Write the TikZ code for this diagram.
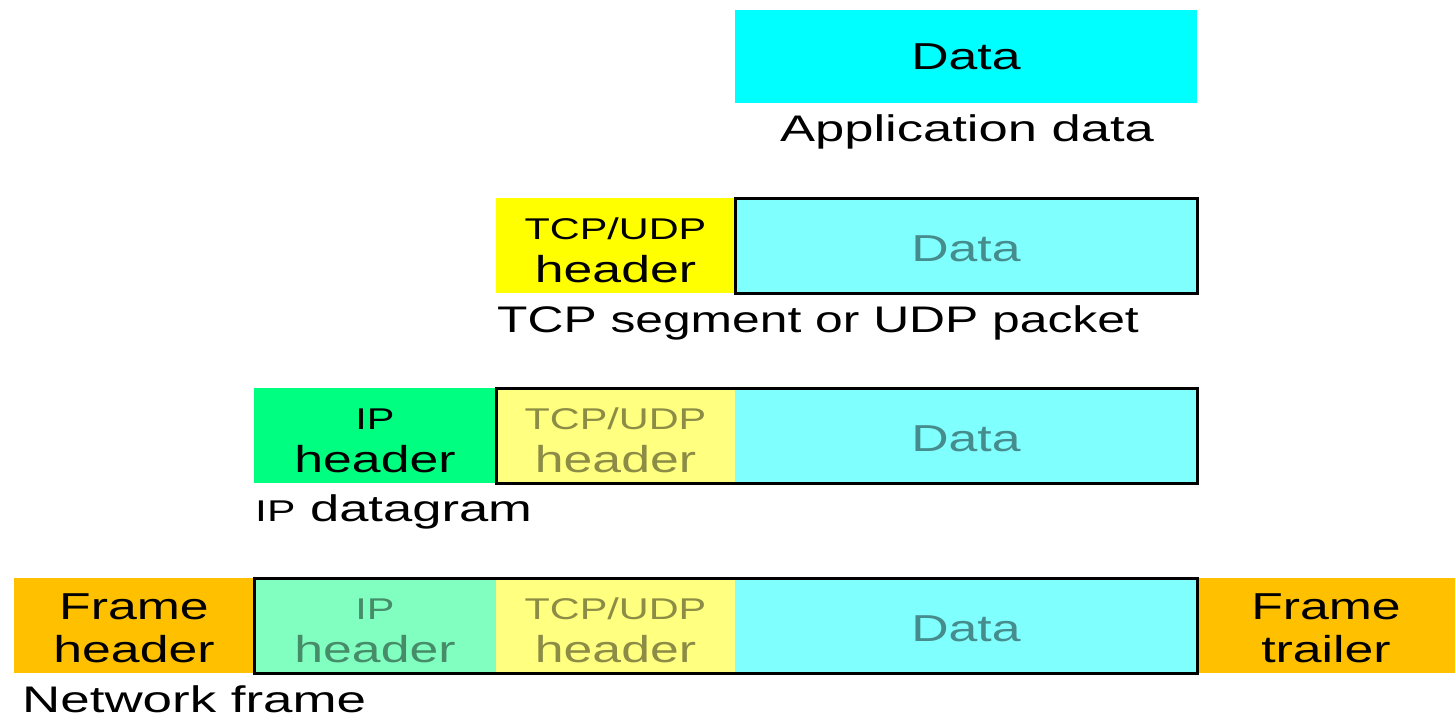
\documentclass[tikz,border=0pt]{standalone}
\usepackage{fontspec}
\usepackage{graphicx}
\setmainfont{Liberation Sans}
\definecolor{appcyan}{HTML}{00FFFF}
\definecolor{palecyan}{HTML}{80FFFF}
\definecolor{hdryellow}{HTML}{FFFF00}
\definecolor{paleyellow}{HTML}{FFFF80}
\definecolor{hdrgreen}{HTML}{00FF80}
\definecolor{palegreen}{HTML}{80FFC0}
\definecolor{frameorange}{HTML}{FFC000}
% wide lettering used throughout
\newcommand\W[1]{\scalebox{1.38}[1]{#1}}
\newcommand\Wx[2]{\scalebox{#1}[1]{#2}}
\newcommand\cellfont{\fontsize{37.5}{43}\selectfont}
\newcommand\acr{\fontsize{30}{43}\selectfont}
\newcommand\lblfont{\fontsize{37}{40}\selectfont}
% cell contents, placed by their baselines relative to the cell centre
\newcommand\one[2][16pt]{\raisebox{-#1}[0pt][0pt]{\W{#2}}}
\newcommand\two[2]{\raisebox{6.5pt}[0pt][0pt]{\begin{tabular}[t]{@{}c@{}}\W{#1}\\\W{#2}\end{tabular}}}
\tikzset{
  cell/.style={anchor=north west, minimum height=95pt, inner sep=0pt, outer sep=0pt, font=\cellfont},
  faded/.style={text opacity=0.45},
  wrap/.style={draw=black, line width=3pt},
  caption/.style={inner sep=0pt, font=\lblfont}
}
\begin{document}
\begin{tikzpicture}[x=1pt,y=-1pt]
\useasboundingbox (0,0) rectangle (1455,718);

% application data
\node[cell, fill=appcyan, minimum width=462pt, minimum height=93pt] (app) at (735,10) {\one[13pt]{Data}};
\node[caption] (applbl) at (967,132) {\Wx{1.42}{Application data}};

% transport layer
\node[cell, fill=hdryellow, minimum width=239pt] (tcph2) at (496,198) {\two{\acr TCP/UDP}{header}};
\node[cell, fill=palecyan, faded, minimum width=462pt] (data2) at (735,198) {\one{Data}};
\draw[wrap] (data2.north west) rectangle (data2.south east);
\node[caption, anchor=west] (seglbl) at (497,323) {\Wx{1.345}{TCP segment or UDP packet}};

% network layer
\node[cell, fill=hdrgreen, minimum width=242pt] (iph3) at (254,388) {\two{\acr IP}{header}};
\node[cell, fill=paleyellow, faded, minimum width=239pt] (tcph3) at (496,388) {\two{\acr TCP/UDP}{header}};
\node[cell, fill=palecyan, faded, minimum width=462pt] (data3) at (735,388) {\one{Data}};
\draw[wrap] (tcph3.north west) rectangle (data3.south east);
\node[caption, anchor=west] (dglbl) at (255,512) {\Wx{1.42}{{\acr IP} datagram}};

% link layer
\node[cell, fill=frameorange, minimum width=240pt] (frh) at (14,578) {\two{Frame}{header}};
\node[cell, fill=palegreen, faded, minimum width=242pt] (iph4) at (254,578) {\two{\acr IP}{header}};
\node[cell, fill=paleyellow, faded, minimum width=239pt] (tcph4) at (496,578) {\two{\acr TCP/UDP}{header}};
\node[cell, fill=palecyan, faded, minimum width=462pt] (data4) at (735,578) {\one{Data}};
\node[cell, fill=frameorange, minimum width=258pt] (frt) at (1197,578) {\two{Frame}{trailer}};
\draw[wrap] (iph4.north west) rectangle (data4.south east);
\node[caption, anchor=west] (nflbl) at (22,699) {\Wx{1.43}{Network frame}};
\end{tikzpicture}
\end{document}
